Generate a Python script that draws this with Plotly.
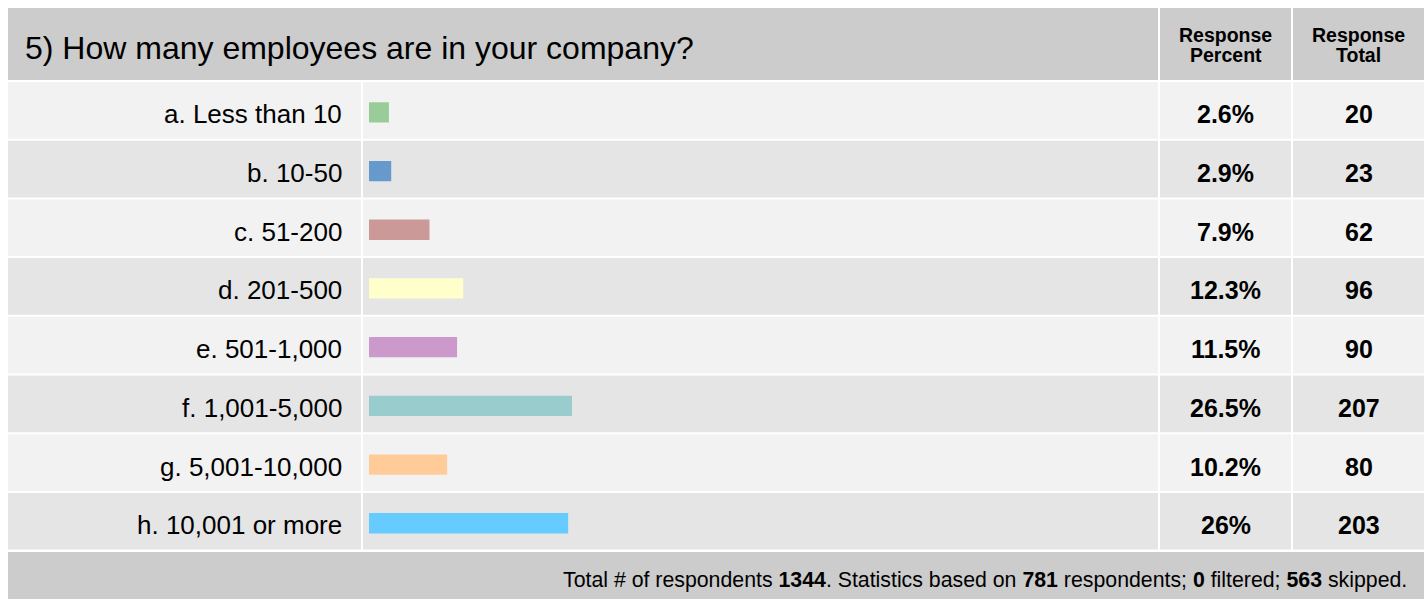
import plotly.graph_objects as go

# Survey question and answers
question = "5) How many employees are in your company?"
categories = [
    "a. Less than 10",
    "b. 10-50",
    "c. 51-200",
    "d. 201-500",
    "e. 501-1,000",
    "f. 1,001-5,000",
    "g. 5,001-10,000",
    "h. 10,001 or more",
]
percents = [2.6, 2.9, 7.9, 12.3, 11.5, 26.5, 10.2, 26.0]
totals = [20, 23, 62, 96, 90, 207, 80, 203]
bar_colors = ["#99CC99", "#6699CC", "#CC9999", "#FFFFCC",
              "#CC99CC", "#99CCCC", "#FFCC99", "#66CCFF"]
total_respondents = 1344
based_on = 781
filtered = 0
skipped = 563

W, H = 1428, 599
FONT = "Liberation Sans, Arial, sans-serif"

# Table geometry (pixels)
left, right = 8, 1424
top, head_bot = 8, 80
rows_top, rows_bot = 81, 550.6
foot_top = 552
col_label_end = 361
col_pct = (1160, 1291)
col_tot = (1293, 1424)
gap = 2
pitch = (rows_bot - rows_top) / len(categories)
bar_x0, bar_span = 369, 766  # 100% spans bar_span px

fig = go.Figure()

shapes = []


def rect(x0, y0, x1, y1, color):
    shapes.append(dict(type="rect", xref="x", yref="y", x0=x0, x1=x1, y0=y0, y1=y1,
                       fillcolor=color, line=dict(width=0), layer="below"))


# Header cells
rect(left, top, col_pct[0] - gap, head_bot, "#CCCCCC")
rect(col_pct[0], top, col_pct[1], head_bot, "#CCCCCC")
rect(col_tot[0], top, col_tot[1], head_bot, "#CCCCCC")

# Body rows with alternating shading
for i in range(len(categories)):
    y0 = rows_top + i * pitch + gap / 2
    y1 = rows_top + (i + 1) * pitch - gap / 2
    c = "#F2F2F2" if i % 2 == 0 else "#E5E5E5"
    rect(left, y0, col_label_end, y1, c)
    rect(col_label_end + gap, y0, col_pct[0] - gap, y1, c)
    rect(col_pct[0], y0, col_pct[1], y1, c)
    rect(col_tot[0], y0, col_tot[1], y1, c)

# Footer
rect(left, foot_top, right, H, "#CCCCCC")

# Bars
fig.add_trace(go.Bar(
    x=percents, y=categories, orientation="h",
    marker=dict(color=bar_colors, line=dict(width=0)),
    width=0.345, xaxis="x2", yaxis="y2", hoverinfo="skip",
))

annotations = []

# Question title
annotations.append(dict(x=23, y=48, xref="x", yref="y",
                        text=question, showarrow=False, xanchor="left", yanchor="middle",
                        font=dict(family=FONT, size=32, color="#000000")))

# Column headers (two tightly stacked lines)
for (cx0, cx1), word in [(col_pct, "Percent"), (col_tot, "Total")]:
    cx = (cx0 + cx1) / 2
    annotations.append(dict(x=cx, y=35, xref="x", yref="y", text="<b>Response</b>",
                            showarrow=False, xanchor="center", yanchor="middle",
                            font=dict(family=FONT, size=19.5, color="#000000")))
    annotations.append(dict(x=cx, y=55, xref="x", yref="y", text="<b>%s</b>" % word,
                            showarrow=False, xanchor="center", yanchor="middle",
                            font=dict(family=FONT, size=19.5, color="#000000")))

# Row labels and values
for cat, p, t in zip(categories, percents, totals):
    annotations.append(dict(x=344, y=cat, xref="x", yref="y3", text=cat, yshift=-4,
                            showarrow=False, xanchor="right", yanchor="middle",
                            font=dict(family=FONT, size=26, color="#000000")))
    annotations.append(dict(x=sum(col_pct) / 2, y=cat, xref="x", yref="y3", yshift=-4,
                            text="<b>%s%%</b>" % format(p, "g"),
                            showarrow=False, xanchor="center", yanchor="middle",
                            font=dict(family=FONT, size=25, color="#000000")))
    annotations.append(dict(x=sum(col_tot) / 2, y=cat, xref="x", yref="y3", yshift=-4,
                            text="<b>%d</b>" % t,
                            showarrow=False, xanchor="center", yanchor="middle",
                            font=dict(family=FONT, size=25, color="#000000")))

# Footer summary
footer = ("Total # of respondents <b>%d</b>. Statistics based on <b>%d</b> respondents; "
          "<b>%d</b> filtered; <b>%d</b> skipped." % (total_respondents, based_on, filtered, skipped))
annotations.append(dict(x=1409, y=580, xref="x", yref="y", text=footer,
                        showarrow=False, xanchor="right", yanchor="middle",
                        font=dict(family=FONT, size=21.3, color="#000000")))

hidden = dict(showgrid=False, zeroline=False, showticklabels=False, ticks="",
              showline=False, fixedrange=True)

# Row band axis (text rows) and bar axis share the same category layout
y_dom = [(H - rows_bot) / H, (H - rows_top) / H]
bar_shift = 2 / H
fig.update_layout(
    width=W, height=H,
    margin=dict(l=0, r=0, t=0, b=0),
    paper_bgcolor="#FFFFFF", plot_bgcolor="rgba(0,0,0,0)",
    showlegend=False,
    shapes=shapes,
    annotations=annotations,
    xaxis=dict(range=[0, W], domain=[0, 1], **hidden),
    yaxis=dict(range=[H, 0], domain=[0, 1], **hidden),
    xaxis2=dict(range=[0, 100], domain=[bar_x0 / W, (bar_x0 + bar_span) / W],
                anchor="y2", **hidden),
    yaxis2=dict(type="category", categoryorder="array", categoryarray=categories,
                range=[len(categories) - 0.5, -0.5],
                domain=[y_dom[0] - bar_shift, y_dom[1] - bar_shift], anchor="x2", **hidden),
    yaxis3=dict(type="category", categoryorder="array", categoryarray=categories,
                range=[len(categories) - 0.5, -0.5], domain=y_dom, anchor="x", **hidden),
)

fig.write_html("out.html")
